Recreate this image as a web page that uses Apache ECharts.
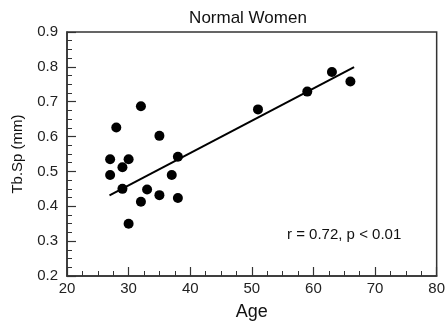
<!DOCTYPE html>
<html><head><meta charset="utf-8">
<script src="https://cdn.jsdelivr.net/npm/echarts@6/dist/echarts.min.js"></script>
<style>html,body{margin:0;padding:0;background:#fff}#c{width:448px;height:326px}</style>
</head><body><div id="c"></div>
<script>
const ages = [27, 27, 28, 30, 29, 29, 30, 32, 32, 33, 35, 35, 37, 38, 38, 51, 59, 63, 66];
const tbsp = [0.535, 0.49, 0.626, 0.535, 0.512, 0.45, 0.35, 0.687, 0.413, 0.448, 0.602, 0.432, 0.49, 0.542, 0.424, 0.678, 0.729, 0.785, 0.758];
const fitX = [26.9, 66.6];
const fitY = [0.431, 0.799];
const titleText = 'Normal Women';
const xName = 'Age';
const yName = 'Tb.Sp (mm)';
const note = 'r = 0.72, p < 0.01';

const font = 'Liberation Sans, Arial, sans-serif';
const chart = echarts.init(document.getElementById('c'), null, {renderer: 'canvas'});
chart.setOption({
  animation: false,
  title: {text: titleText, left: 243, top: 5, textAlign: 'center',
    textStyle: {fontFamily: font, fontWeight: 'normal', fontSize: 17, color: '#111'}},
  grid: {left: 67, right: 10, top: 32, bottom: 47, show: true, borderColor: '#333', borderWidth: 1.5, backgroundColor: '#fff'},
  xAxis: {type: 'value', min: 20, max: 80, interval: 10,
    name: xName, nameLocation: 'middle', nameGap: 27,
    nameTextStyle: {fontFamily: font, fontSize: 18, color: '#111'},
    axisLine: {show: true, lineStyle: {color: '#333', width: 1.5}},
    axisTick: {show: true, inside: true, length: 9, lineStyle: {color: '#333', width: 1.2}},
    minorTick: {show: true, splitNumber: 4, length: 5, lineStyle: {color: '#333', width: 1}},
    axisLabel: {fontFamily: font, fontSize: 15, color: '#222', margin: 5},
    splitLine: {show: false}},
  yAxis: {type: 'value', min: 0.2, max: 0.9, interval: 0.1,
    name: yName, nameLocation: 'middle', nameGap: 42, nameRotate: 90,
    nameTextStyle: {fontFamily: font, fontSize: 15, color: '#111'},
    axisLine: {show: true, lineStyle: {color: '#333', width: 1.5}},
    axisTick: {show: true, inside: true, length: 9, lineStyle: {color: '#333', width: 1.2}},
    minorTick: {show: true, splitNumber: 4, length: 5, lineStyle: {color: '#333', width: 1}},
    axisLabel: {fontFamily: font, fontSize: 15, color: '#222', margin: 9,
      formatter: v => v.toFixed(1)},
    splitLine: {show: false}},
  series: [
    {type: 'line', data: fitX.map((x, i) => [x, fitY[i]]), symbol: 'none',
      lineStyle: {color: '#000', width: 2}, z: 2},
    {type: 'scatter', data: ages.map((a, i) => [a, tbsp[i]]), symbolSize: 10,
      itemStyle: {color: '#000', opacity: 1}, z: 3}
  ],
  graphic: [{type: 'text', left: 287, top: 227,
    style: {text: note, fontFamily: font, fontSize: 15, fill: '#111'}}]
});
</script></body></html>
